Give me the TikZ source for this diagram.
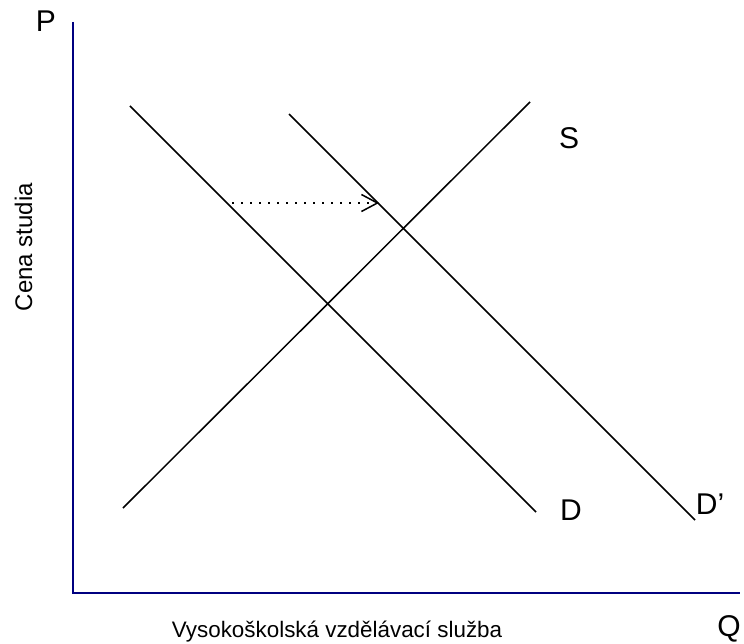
\documentclass[tikz,border=0pt]{standalone}
\usepackage{fontspec}
\setmainfont{Liberation Sans}
\usetikzlibrary{arrows.meta}

\definecolor{axisblue}{RGB}{0,0,128}

\tikzset{
  axis/.style={draw=axisblue, line width=1.5pt},
  curve/.style={draw=black, line width=1.5pt},
  shiftarrow/.style={draw=black, line width=1.6pt, dash pattern=on 1.6pt off 7.4pt,
    -{Straight Barb[length=16pt, width=17pt, line width=1.5pt]}},
  biglabel/.style={font=\fontsize{30}{36}\selectfont, inner sep=0pt},
  axislabel/.style={font=\fontsize{22.4}{27}\selectfont, inner sep=0pt}
}

\begin{document}
\begin{tikzpicture}[x=1pt, y=-1pt]
\useasboundingbox (0,0) rectangle (744,644);

\coordinate (O) at (73,593);
\coordinate (Ptop) at (73,22);
\coordinate (Qend) at (740,593);
\coordinate (D1) at (130,106);
\coordinate (D2) at (536,512);
\coordinate (Dp1) at (289,114);
\coordinate (Dp2) at (695,520);
\coordinate (S1) at (123,508);
\coordinate (S2) at (530,102);
\coordinate (A1) at (232,203);
\coordinate (A2) at (379,203);

% axes
\draw[axis] (Ptop) -- (O) -- (Qend);

% demand and supply
\draw[curve] (D1) -- (D2);
\draw[curve] (Dp1) -- (Dp2);
\draw[curve] (S1) -- (S2);

% shift of demand
\draw[shiftarrow] (A1) -- (A2);

\node[biglabel] (P) at (46,21) {P};
\node[biglabel] (Q) at (729,629) {Q};
\node[biglabel] (S) at (569,138) {S};
\node[biglabel] (D) at (571,510) {D};
\node[biglabel] (Dp) at (710,504) {D’};
\node[axislabel, anchor=base] (xlab) at (337,637) {Vysokoškolská vzdělávací služba};
\node[axislabel, font=\fontsize{24}{29}\selectfont, rotate=90, anchor=base] (ylab) at (32,247) {Cena studia};
\end{tikzpicture}
\end{document}
